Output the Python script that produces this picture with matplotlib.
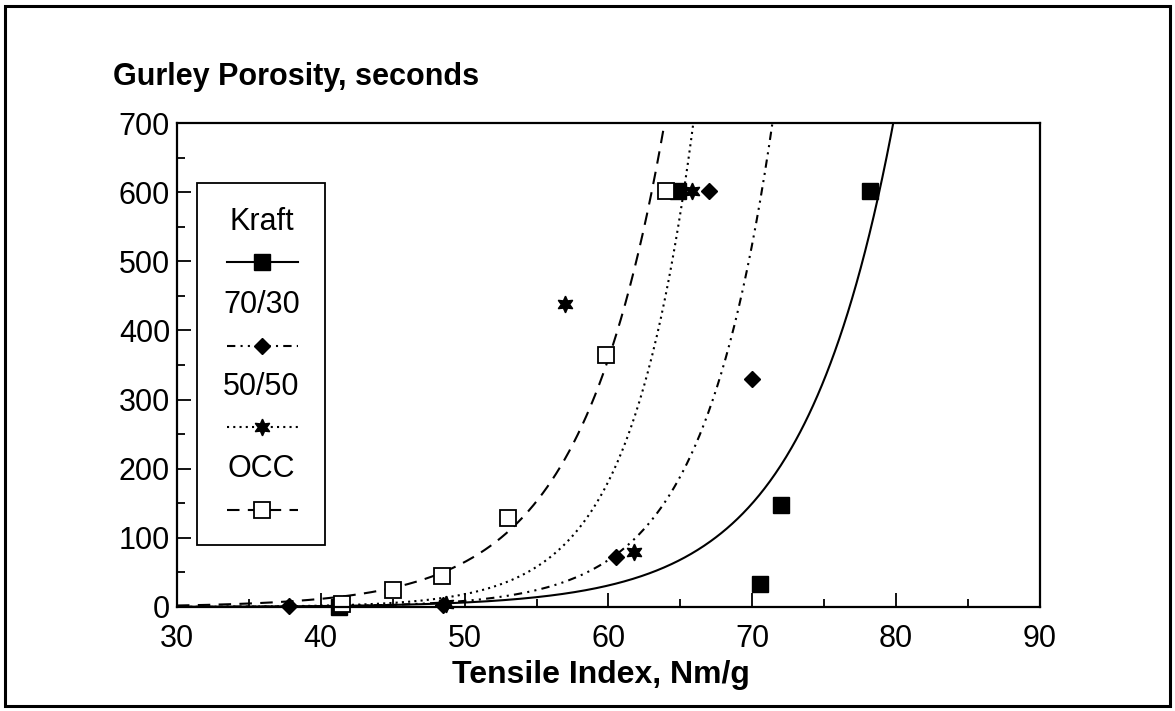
import numpy as np
import matplotlib
matplotlib.use("Agg")
import matplotlib.pyplot as plt
from matplotlib.patches import Rectangle

plt.rcParams['font.family'] = ['Liberation Sans', 'DejaVu Sans']

# ---- data ----
kraft_x = [41.3, 64.8, 70.5, 72.0, 78.2]
kraft_y = [0, 602, 33, 148, 602]
mix7030_x = [37.8, 48.5, 60.5, 67.0, 70.0]
mix7030_y = [2, 3, 72, 602, 330]
mix5050_x = [48.7, 57.0, 61.8, 65.8]
mix5050_y = [4, 438, 80, 602]
occ_x = [41.5, 45.0, 48.4, 53.0, 59.8, 64.0]
occ_y = [5, 25, 45, 128, 365, 602]

# exponential fit curves: (x1, y1) and (x2, y2)
kraft_fit = [(70.0, 150.0), (79.8, 700.0)]
mix7030_fit = [(60.0, 68.0), (71.4, 700.0)]
mix5050_fit = [(55.0, 58.0), (65.9, 700.0)]
occ_fit = [(50.0, 65.0), (63.9, 700.0)]

x_ticks = [30, 40, 50, 60, 70, 80, 90]
y_ticks = [0, 100, 200, 300, 400, 500, 600, 700]


def exp_curve(fit, xs):
    (x1, y1), (x2, y2) = fit
    b = np.log(y2 / y1) / (x2 - x1)
    return y1 * np.exp(b * (xs - x1))


FS = 22

fig = plt.figure(figsize=(11.75, 7.11), dpi=100)
ax = fig.add_axes([0.1506, 0.1463, 0.7345, 0.6807])

xs = np.linspace(30, 90, 800)
styles = {
    'kraft': dict(ls='-', lw=1.5),
    '7030': dict(ls=(0, (4, 2.5, 1, 2.5, 1, 2.5)), lw=1.5),
    '5050': dict(ls=(0, (1, 2)), lw=1.5),
    'occ': dict(ls=(0, (6, 4)), lw=1.5),
}
for fit, key in [(kraft_fit, 'kraft'), (mix7030_fit, '7030'),
                 (mix5050_fit, '5050'), (occ_fit, 'occ')]:
    ys = exp_curve(fit, xs)
    m = ys <= 720
    ax.plot(xs[m], ys[m], color='black', clip_on=True, **styles[key])

star = (6, 1, 0)
ax.plot(kraft_x, kraft_y, 's', color='black', ms=11, ls='none', clip_on=False)
ax.plot(mix7030_x, mix7030_y, 'D', color='black', ms=8, ls='none', clip_on=False)
ax.plot(mix5050_x, mix5050_y, marker=star, color='black', ms=12, ls='none', clip_on=False)
ax.plot(occ_x, occ_y, 's', mfc='white', mec='black', mew=1.3, ms=11, ls='none', clip_on=False)

ax.set_xlim(30, 90)
ax.set_ylim(0, 700)
ax.set_xticks(x_ticks)
ax.set_yticks(y_ticks)
ax.set_xticks(np.arange(35, 90, 10), minor=True)
ax.set_yticks(np.arange(50, 700, 100), minor=True)
ax.tick_params(which='both', direction='in', labelsize=FS, width=1.3)
ax.tick_params(which='major', length=10)
ax.tick_params(which='minor', length=6)
ax.tick_params(axis='x', pad=12)
ax.tick_params(axis='y', pad=5)
for s in ax.spines.values():
    s.set_linewidth(1.6)

ax.set_xlabel('Tensile Index, Nm/g', fontsize=23, fontweight='bold', va='center')
ax.xaxis.set_label_coords(0.491, -0.140)
fig.text(113 / 1175, 1 - 77 / 711, 'Gurley Porosity, seconds', fontsize=22,
         fontweight='bold', va='center', ha='left')

# legend drawn manually (label above handle)
ax.add_patch(Rectangle((0.023, 0.128), 0.148, 0.748, transform=ax.transAxes,
                       fill=True, facecolor='white', edgecolor='black', lw=1.3, zorder=5))
entries = [
    ('Kraft', 0.795, 0.713, 'kraft', dict(marker='s', mfc='black', ms=11)),
    ('70/30', 0.624, 0.539, '7030', dict(marker='D', mfc='black', ms=8)),
    ('50/50', 0.455, 0.372, '5050', dict(marker=star, mfc='black', ms=12)),
    ('OCC', 0.285, 0.200, 'occ', dict(marker='s', mfc='white', ms=11, mew=1.3)),
]
for label, ty, hy, key, mk in entries:
    ax.text(0.098, ty, label, transform=ax.transAxes, ha='center', va='center',
            fontsize=FS, zorder=6)
    ax.plot([0.058, 0.140], [hy, hy], transform=ax.transAxes, color='black',
            zorder=6, clip_on=False, **styles[key])
    ax.plot([0.098], [hy], transform=ax.transAxes, color='black', mec='black',
            ls='none', zorder=7, clip_on=False, **mk)

# outer frame
fig.add_artist(Rectangle((0.004, 0.007), 0.992, 0.985, transform=fig.transFigure,
                         fill=False, edgecolor='black', lw=2.2))

fig.savefig('out.png', dpi=100)
